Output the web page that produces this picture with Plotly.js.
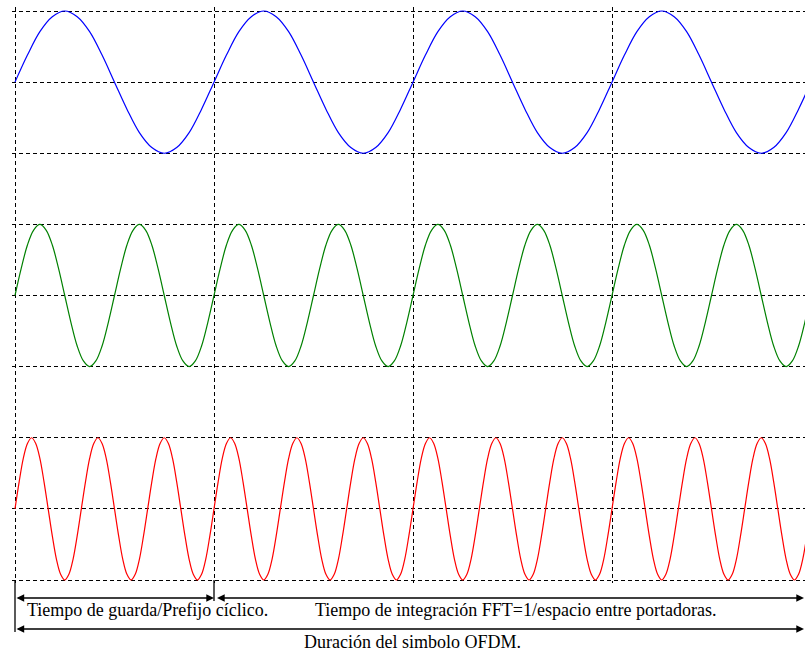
<!DOCTYPE html>
<html>
<head>
<meta charset="utf-8">
<script src="https://cdn.plot.ly/plotly-3.0.1.min.js"></script>
<style>html,body{margin:0;padding:0;background:#fff;}#chart{width:805px;height:651px;}</style>
</head>
<body>
<div id="chart"></div>
<script>
// ---- data ----
const seriesNames = ['Subportadora 1', 'Subportadora 2', 'Subportadora 3'];
const seriesColors = ['#0000ff', '#008000', '#ff0000'];
const cyclesPerPeriod = [1, 2, 3];      // cycles of each carrier in one FFT period
const baselines = [7, 4, 1];            // vertical centre of each carrier
const amplitudes = [1, 1, 1];
const periodsShown = 4;                 // guard period + 3 FFT periods
// one cycle of a carrier, read at 16 equally spaced points
const cycleSamples = [0, 0.38, 0.71, 0.92, 1, 0.92, 0.71, 0.38, 0, -0.38, -0.71, -0.92, -1, -0.92, -0.71, -0.38];
const guardInterval = [0, 1];
const fftInterval = [1, 4];
const symbolInterval = [0, 4];
const labels = ['Tiempo de guarda/Prefijo cíclico.', 'Tiempo de integración FFT=1/espacio entre portadoras.', 'Duración del simbolo OFDM.'];

// ---- geometry ----
const W = 805, H = 651;
const plotL = 12, plotR = 805, plotT = 7, plotB = 583;
const pxX = 199, x0px = 15;
const pxY = 71.125, y0px = 580;
const xr = [-(x0px - plotL) / pxX, (plotR - x0px) / pxX];
const yr = [-(plotB - y0px) / pxY, (y0px - plotT) / pxY];
const xp = px => (px - plotL) / (plotR - plotL);
const yp = py => (plotB - py) / (plotB - plotT);
const dataToPx = x => x0px + x * pxX;

const traces = seriesNames.map((name, i) => {
  const n = cycleSamples.length;
  const total = cyclesPerPeriod[i] * periodsShown * n;
  const xs = [], ys = [];
  for (let k = 0; k <= total; k++) {
    xs.push(k / (n * cyclesPerPeriod[i]));
    ys.push(baselines[i] + amplitudes[i] * cycleSamples[k % n]);
  }
  return {x: xs, y: ys, name: name, type: 'scatter', mode: 'lines',
          line: {color: seriesColors[i], width: 1.2, shape: 'spline', smoothing: 1},
          hoverinfo: 'skip'};
});

const arrowCommon = {xref: 'paper', yref: 'paper', axref: 'pixel', ayref: 'pixel', text: '',
  showarrow: true, arrowside: 'end+start', arrowhead: 2, startarrowhead: 2,
  arrowsize: 1.1, startarrowsize: 1.1, arrowwidth: 1.4, arrowcolor: '#000', ay: 0};

function arrow(interval, py, endGap) {
  const a = dataToPx(interval[0]) + (endGap || 0), b = dataToPx(interval[1]);
  return Object.assign({}, arrowCommon, {x: xp(b), y: yp(py), ax: -(b - a)});
}

const textFont = {family: 'Liberation Serif, Times New Roman, serif', size: 18, color: '#000'};
const annotations = [
  arrow(guardInterval, 598, 0),
  arrow(fftInterval, 598, 1.5),
  arrow(symbolInterval, 629, 0),
  {xref: 'paper', yref: 'paper', x: xp(25), y: yp(610), xanchor: 'left', yanchor: 'middle', text: labels[0], showarrow: false, font: textFont},
  {xref: 'paper', yref: 'paper', x: xp(515), y: yp(610), xanchor: 'center', yanchor: 'middle', text: labels[1], showarrow: false, font: textFont},
  {xref: 'paper', yref: 'paper', x: xp(412), y: yp(642), xanchor: 'center', yanchor: 'middle', text: labels[2], showarrow: false, font: textFont}
];

const shapes = [
  {type: 'line', xref: 'x', yref: 'paper', x0: symbolInterval[0], x1: symbolInterval[0], y0: yp(580), y1: yp(632), line: {color: '#000', width: 1.3}},
  {type: 'line', xref: 'x', yref: 'paper', x0: guardInterval[1], x1: guardInterval[1], y0: yp(580), y1: yp(601), line: {color: '#000', width: 1.3}}
];

const gridStyle = {showgrid: true, gridcolor: '#000', gridwidth: 1, griddash: '4px,3px',
  zeroline: false, showline: false, showticklabels: false, ticks: '', dtick: 1, tick0: 0, fixedrange: true};

const layout = {
  width: W, height: H,
  margin: {l: plotL, r: W - plotR, t: plotT, b: H - plotB, pad: 0},
  paper_bgcolor: '#fff', plot_bgcolor: '#fff',
  showlegend: false,
  xaxis: Object.assign({range: xr}, gridStyle),
  yaxis: Object.assign({range: yr}, gridStyle),
  annotations: annotations,
  shapes: shapes
};

Plotly.newPlot('chart', traces, layout, {displayModeBar: false, staticPlot: true});
</script>
</body>
</html>
